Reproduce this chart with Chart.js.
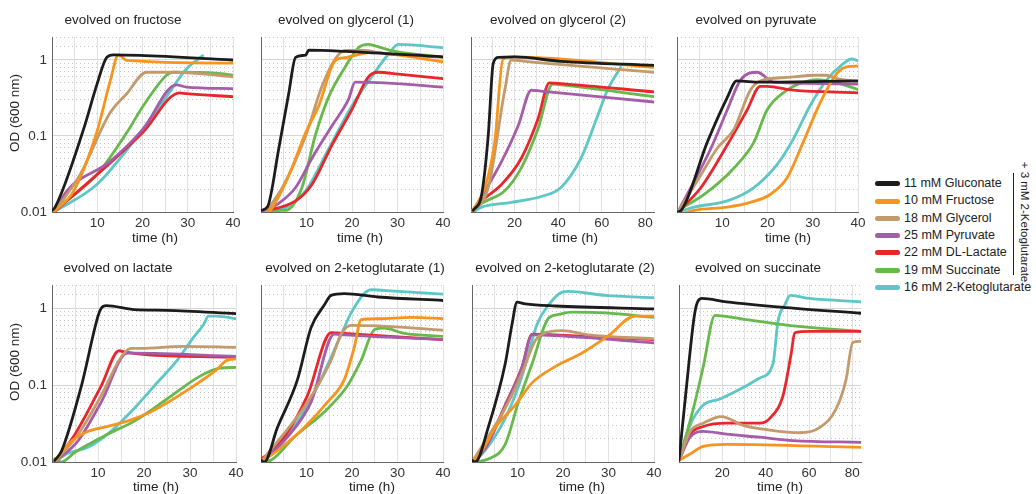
<!DOCTYPE html>
<html><head><meta charset="utf-8">
<script src="https://cdn.jsdelivr.net/npm/chart.js@4.4.0/dist/chart.umd.min.js"></script>
<style>
body{margin:0;background:#fff;width:1036px;height:494px;overflow:hidden;position:relative;font-family:"Liberation Sans",Arial,sans-serif;color:#222}
canvas{position:absolute}
.t{position:absolute;white-space:nowrap;font-size:13px;line-height:1;transform:translate(-50%,-50%)}
.leg{position:absolute;left:875px;font-size:12.5px;white-space:nowrap;line-height:1}
.leg span{display:inline-block;width:25px;height:5px;border-radius:3px;vertical-align:middle;margin-right:4px}
</style></head><body>
<script>
// ---- series ----
const seriesNames = ['11 mM Gluconate','10 mM Fructose','18 mM Glycerol','25 mM Pyruvate','22 mM DL-Lactate','19 mM Succinate','16 mM 2-Ketoglutarate'];
const seriesColors = ['#1c1c1c','#f7941d','#c29a6c','#a65ca8','#e8262b','#66b94a','#5cc7c6'];
const panelTitles = ['evolved on fructose','evolved on glycerol (1)','evolved on glycerol (2)','evolved on pyruvate','evolved on lactate','evolved on 2-ketoglutarate (1)','evolved on 2-ketoglutarate (2)','evolved on succinate'];
const panelXMax = [40,40,84,40,40,40,40,84];
const yTickLabels = ['0.01','0.1','1'];

// ---- panel 1: evolved on fructose ----
const fru_glc = [[0,0.0105],[0.7,0.0116],[7,0.124],[9.9,0.47],[12.1,1.08],[13.6,1.17],[19.4,1.15],[40,1.0]];
const fru_fru = [[0.4,0.01],[4.8,0.019],[9.9,0.112],[12.8,0.51],[14.7,1.17],[16.5,0.99],[40,0.91]];
const fru_gly = [[0.5,0.01],[6.2,0.031],[12.8,0.2],[16.5,0.36],[20.9,0.69],[27.5,0.69],[40,0.6]];
const fru_pyr = [[0.5,0.01],[3.3,0.019],[12.8,0.046],[20.1,0.123],[27.5,0.47],[29.7,0.44],[40,0.42]];
const fru_lac = [[0.5,0.01],[12.8,0.044],[20.1,0.112],[28.2,0.37],[29.7,0.36],[40,0.33]];
const fru_suc = [[0.5,0.0105],[9.9,0.031],[16.5,0.11],[20.1,0.246],[25.3,0.63],[26.7,0.69],[36.3,0.67],[40,0.63]];
const fru_akg = [[0.4,0.01],[9.9,0.023],[17.9,0.083],[25.3,0.33],[29.7,0.76],[33.3,1.14]];

// ---- panel 2: evolved on glycerol (1) ----
const gly1_glc = [[0,0.0105],[1.4,0.0116],[3.9,0.068],[6.1,0.365],[7.6,1.08],[9.8,1.16],[10.5,1.35],[18.5,1.3],[40,1.1]];
const gly1_fru = [[0,0.01],[1,0.0095],[3.9,0.016],[6.8,0.038],[9.8,0.11],[12.7,0.25],[16.3,0.98],[18.5,1.07],[24.3,1.26],[28,1.2],[40,0.95]];
const gly1_gly = [[1,0.01],[4.7,0.021],[9.8,0.1],[13.4,0.45],[16.3,1.03],[18.5,1.34],[22.9,1.34],[25.8,1.25],[40,1.08]];
const gly1_pyr = [[0,0.01],[3.9,0.013],[7.6,0.021],[11.2,0.051],[15.6,0.136],[19.2,0.3],[20.7,0.51],[27.2,0.5],[40,0.44]];
const gly1_lac = [[0,0.01],[7.6,0.014],[11.2,0.023],[15.6,0.076],[20,0.224],[23.6,0.6],[25.8,0.69],[30.2,0.65],[40,0.57]];
const gly1_suc = [[0,0.0105],[5.4,0.0105],[9,0.021],[11.9,0.1],[14.9,0.33],[18.5,0.81],[21.4,1.45],[23.6,1.6],[25.1,1.53],[29.4,1.3],[40,1.09]];
const gly1_akg = [[0,0.01],[3.9,0.0105],[9.8,0.019],[14.9,0.068],[20,0.25],[24.3,0.6],[28,1.19],[30.2,1.6],[40,1.45]];

// ---- panel 3: evolved on glycerol (2) ----
const gly2_glc = [[1,0.0105],[4.9,0.017],[7.9,0.1],[10.2,0.9],[12.5,1.08],[20,1.1],[41,0.96],[84,0.85]];
const gly2_fru = [[0.3,0.01],[6.4,0.021],[10.9,0.083],[14.7,1.03],[20,1.1],[84,0.8]];
const gly2_gly = [[0.3,0.01],[7.9,0.021],[15.5,0.4],[18.5,1.0],[26,0.95],[84,0.69]];
const gly2_pyr = [[1,0.0105],[4.9,0.016],[14,0.046],[21.6,0.135],[27.7,0.4],[32,0.39],[84,0.28]];
const gly2_lac = [[1,0.0105],[4.9,0.014],[14,0.023],[23.1,0.051],[30.7,0.166],[36,0.5],[41.3,0.49],[84,0.38]];
const gly2_suc = [[1,0.0105],[4.9,0.013],[15.5,0.019],[23.1,0.038],[30.7,0.123],[37.5,0.48],[41.3,0.47],[84,0.33]];
const gly2_akg = [[1,0.01],[4.9,0.0116],[18.5,0.0134],[32.2,0.016],[41.3,0.021],[50.5,0.051],[58,0.18],[62.6,0.4],[68.7,0.8]];

// ---- panel 4: evolved on pyruvate ----
const pyr_glc = [[0,0.01],[0.9,0.0105],[6.7,0.083],[11.1,0.32],[13.2,0.53],[18.4,0.51],[40,0.53]];
const pyr_fru = [[0,0.009],[3.8,0.0105],[11.1,0.0116],[16.2,0.0134],[20.6,0.017],[24.3,0.028],[27.9,0.083],[31.6,0.27],[35.3,0.66],[37.5,0.81],[40,0.83]];
const pyr_gly = [[0.2,0.01],[5.3,0.031],[8.9,0.069],[12.6,0.123],[16.2,0.4],[18.4,0.53],[24.3,0.59],[30.9,0.63],[33,0.63],[35.3,0.57],[40,0.52]];
const pyr_pyr = [[0.2,0.01],[7.5,0.069],[11.1,0.22],[14,0.54],[17.7,0.69],[21.4,0.51],[33,0.49],[40,0.48]];
const pyr_lac = [[0.2,0.01],[5.3,0.021],[11.1,0.076],[15.5,0.22],[18.4,0.45],[19.9,0.45],[25.7,0.4],[40,0.37]];
const pyr_suc = [[0.2,0.0105],[6,0.017],[12.6,0.038],[17,0.083],[19.9,0.22],[24.3,0.4],[27.2,0.49],[30.9,0.55],[35.3,0.5],[40,0.41]];
const pyr_akg = [[0.2,0.01],[3.8,0.0116],[11.1,0.014],[17,0.021],[22.1,0.042],[25.7,0.091],[29.4,0.25],[33,0.54],[36.7,0.89],[38.6,1.03],[40,0.98]];

// ---- panel 5: evolved on lactate ----
const lac_glc = [[0.6,0.0105],[2.1,0.014],[6.4,0.098],[10,0.79],[10.7,1.0],[11.8,1.08],[17.9,0.96],[25,0.94],[40,0.85]];
const lac_fru = [[0.6,0.01],[3.5,0.017],[7.1,0.024],[12.1,0.029],[16.4,0.034],[21.5,0.045],[28.6,0.08],[35.8,0.159],[38,0.21],[40,0.22]];
const lac_gly = [[0.6,0.01],[5.7,0.023],[10.7,0.073],[15,0.23],[17.2,0.3],[19.3,0.3],[28.6,0.32],[40,0.31]];
const lac_pyr = [[0.6,0.01],[5.7,0.019],[10.7,0.06],[16.4,0.26],[17.9,0.26],[40,0.236]];
const lac_lac = [[0.6,0.01],[5,0.023],[10.7,0.098],[14.6,0.28],[15.7,0.27],[21.5,0.245],[40,0.232]];
const lac_suc = [[0.6,0.011],[2,0.01],[5,0.0134],[12.1,0.023],[17.9,0.034],[25,0.066],[32.2,0.131],[36.5,0.166],[40,0.17]];
const lac_akg = [[0.6,0.01],[3.5,0.013],[7.8,0.0155],[12.8,0.025],[17.9,0.05],[22.9,0.108],[27.2,0.21],[30.8,0.42],[33,0.62],[34,0.79],[35.8,0.79],[40,0.73]];

// ---- panel 6: evolved on 2-ketoglutarate (1) ----
const akg1_glc = [[0,0.0105],[0.7,0.01],[3.6,0.028],[8,0.117],[11,0.56],[13.9,1.1],[15.4,1.47],[18.3,1.55],[25.7,1.4],[40,1.26]];
const akg1_fru = [[0,0.01],[3.6,0.014],[9.5,0.028],[14.6,0.06],[18.3,0.118],[20.5,0.31],[22,0.71],[25.7,0.73],[33,0.76],[40,0.73]];
const akg1_gly = [[0,0.01],[10.2,0.06],[15.4,0.21],[17.6,0.46],[19.8,0.6],[25.7,0.59],[40,0.52]];
const akg1_pyr = [[0,0.01],[5.8,0.021],[11,0.06],[16.1,0.46],[18.3,0.45],[40,0.39]];
const akg1_lac = [[0,0.011],[1.4,0.0125],[5.1,0.021],[10.2,0.073],[15.4,0.48],[18.3,0.47],[40,0.39]];
const akg1_suc = [[0,0.01],[2.1,0.0105],[7.3,0.021],[14.6,0.049],[19,0.098],[22,0.21],[25,0.53],[27.1,0.55],[31.5,0.47],[40,0.43]];
const akg1_akg = [[0,0.01],[5.1,0.019],[11,0.066],[15.4,0.23],[18.3,0.56],[19.8,0.87],[24.2,1.74],[29.3,1.67],[40,1.53]];

// ---- panel 7: evolved on 2-ketoglutarate (2) ----
const akg2_glc = [[0,0.0105],[0.7,0.01],[3.7,0.03],[7.3,0.19],[8.8,0.62],[9.9,1.2],[11.7,1.14],[18.3,1.07],[40,0.98]];
const akg2_fru = [[0,0.01],[2.2,0.014],[5.1,0.028],[9.5,0.055],[13.2,0.107],[18.3,0.174],[24.1,0.26],[30,0.44],[35.8,0.79],[40,0.79]];
const akg2_gly = [[0,0.01],[7.3,0.05],[11,0.144],[13.9,0.38],[15.4,0.46],[19.8,0.51],[25.6,0.45],[40,0.4]];
const akg2_pyr = [[0,0.01],[2.9,0.015],[7.3,0.053],[11,0.17],[13.2,0.45],[18.3,0.44],[40,0.355]];
const akg2_lac = [[0,0.01],[2.9,0.0155],[7.3,0.055],[11,0.174],[13.2,0.46],[18.3,0.45],[40,0.39]];
const akg2_suc = [[0.7,0.01],[3.7,0.011],[7.3,0.017],[10.2,0.06],[13.2,0.19],[16.8,0.74],[19,0.83],[21.9,0.89],[29.3,0.87],[40,0.76]];
const akg2_akg = [[0,0.01],[2.2,0.0127],[7.3,0.037],[11,0.131],[14.3,0.62],[16.8,1.1],[19.8,1.62],[21.2,1.66],[29.3,1.47],[40,1.37]];

// ---- panel 8: evolved on succinate ----
const suc_glc = [[0,0.0105],[3.5,0.098],[7.4,0.91],[10.4,1.34],[21.9,1.21],[49.5,1.02],[84,0.86]];
const suc_fru = [[0,0.0105],[5.1,0.0127],[11.2,0.016],[21.9,0.017],[84,0.0155]];
const suc_gly = [[0,0.0105],[5.1,0.025],[11.2,0.032],[19.6,0.039],[29.6,0.03],[41.9,0.026],[55.7,0.024],[64.9,0.028],[72.5,0.049],[77.1,0.118],[80.2,0.36],[84,0.37]];
const suc_pyr = [[0,0.0105],[5.1,0.021],[11.2,0.025],[21.9,0.023],[37.3,0.021],[52.6,0.019],[84,0.018]];
const suc_lac = [[0,0.0105],[5.1,0.023],[11.2,0.029],[21.9,0.032],[37.3,0.032],[41.9,0.037],[48,0.073],[51.8,0.26],[53.4,0.48],[60.3,0.5],[84,0.5]];
const suc_suc = [[0,0.0105],[6.6,0.049],[11.2,0.174],[16.6,0.81],[31.1,0.71],[52.6,0.59],[84,0.5]];
const suc_akg = [[0,0.0105],[5.1,0.03],[11.2,0.055],[18.9,0.066],[29.6,0.093],[37.3,0.124],[43.4,0.19],[45.7,0.68],[48.8,1.1],[51.4,1.47],[60.3,1.34],[84,1.21]];

const panelData = [
  [fru_glc,fru_fru,fru_gly,fru_pyr,fru_lac,fru_suc,fru_akg],
  [gly1_glc,gly1_fru,gly1_gly,gly1_pyr,gly1_lac,gly1_suc,gly1_akg],
  [gly2_glc,gly2_fru,gly2_gly,gly2_pyr,gly2_lac,gly2_suc,gly2_akg],
  [pyr_glc,pyr_fru,pyr_gly,pyr_pyr,pyr_lac,pyr_suc,pyr_akg],
  [lac_glc,lac_fru,lac_gly,lac_pyr,lac_lac,lac_suc,lac_akg],
  [akg1_glc,akg1_fru,akg1_gly,akg1_pyr,akg1_lac,akg1_suc,akg1_akg],
  [akg2_glc,akg2_fru,akg2_gly,akg2_pyr,akg2_lac,akg2_suc,akg2_akg],
  [suc_glc,suc_fru,suc_gly,suc_pyr,suc_lac,suc_suc,suc_akg]
];

// ---- layout (pixels) ----
const plotLeft  = [52,261,471,677,52,261,472,679];
const plotRight = [233,443,654,858,236,443,654,861];
const plotTop   = [32,32,32,32,280,280,280,280];
const plotBot   = [212,212,212,212,462,462,462,462];
const titleCX   = [123,346,558,756,118,355,565,758];
const xTitleCX  = [155,360,575,788,156,372,582,780];
const L = 48, R = 14, T = 8, B = 24;
const FONT = '"Liberation Sans", Arial, Helvetica, sans-serif';

function addText(txt, cx, cy, rot, size){
  const d = document.createElement('div');
  d.className = 't';
  d.textContent = txt;
  d.style.left = cx + 'px'; d.style.top = cy + 'px';
  if (size) d.style.fontSize = size + 'px';
  d.style.transform = 'translate(-50%,-50%)' + (rot ? ' rotate(' + rot + 'deg)' : '');
  document.body.appendChild(d);
}
function isDecade(v){ const l = Math.log10(v); return Math.abs(l - Math.round(l)) < 1e-6; }

for (let p = 0; p < 8; p++) {
  const w = plotRight[p] - plotLeft[p] + L + R;
  const h = plotBot[p] - plotTop[p] + T + B;
  const c = document.createElement('canvas');
  c.width = w; c.height = h;
  c.style.left = (plotLeft[p] - L) + 'px';
  c.style.top = (plotTop[p] - T) + 'px';
  c.style.width = w + 'px'; c.style.height = h + 'px';
  document.body.appendChild(c);
  const xmax = panelXMax[p];
  const gridStep = xmax > 50 ? 10 : 5;
  const labStep = xmax > 50 ? 20 : 10;
  const showY = (p % 4 === 0);
  new Chart(c, {
    type: 'line',
    data: {
      datasets: panelData[p].map((arr, i) => ({
        label: seriesNames[i],
        data: arr.map(q => ({x: q[0], y: q[1]})),
        borderColor: seriesColors[i],
        backgroundColor: seriesColors[i],
        borderWidth: 2.8,
        pointRadius: 0,
        cubicInterpolationMode: 'monotone',
        borderCapStyle: 'round',
        borderJoinStyle: 'round',
        fill: false
      }))
    },
    options: {
      responsive: false, animation: false, devicePixelRatio: 1,
      layout: { padding: { left: 0, top: T, right: R, bottom: 0 } },
      plugins: { legend: { display: false }, title: { display: false }, tooltip: { enabled: false } },
      scales: {
        x: {
          type: 'linear', min: 0, max: xmax,
          afterFit: s => { s.height = B; },
          ticks: {
            stepSize: gridStep, includeBounds: false, autoSkip: false, maxRotation: 0, padding: 3, color: '#333',
            font: { family: FONT, size: 13.5 },
            callback: v => (v > 0 && v % labStep === 0) ? String(v) : ''
          },
          grid: { color: '#e2e2e2', lineWidth: 1, drawTicks: false },
          border: { display: true, color: '#666', width: 1 }
        },
        y: {
          type: 'logarithmic', min: 0.01, max: 2, position: 'left',
          afterFit: s => { s.width = L; },
          ticks: {
            autoSkip: false, padding: 5, color: '#333',
            font: { family: FONT, size: 13.5 },
            callback: v => {
              if (!showY) return '';
              for (const lab of yTickLabels) if (Math.abs(v - parseFloat(lab)) < 1e-9) return lab;
              return '';
            }
          },
          grid: { color: ctx => (ctx.tick && isDecade(ctx.tick.value)) ? '#d6d6d6' : 'rgba(0,0,0,0)', lineWidth: 1, drawTicks: false },
          border: { display: true, color: '#666', width: 1 }
        },
        y2: {
          type: 'logarithmic', min: 0.01, max: 2, position: 'left',
          afterFit: s => { s.width = 0; },
          ticks: { display: false },
          grid: { color: ctx => (ctx.tick && !isDecade(ctx.tick.value)) ? '#c4c4c4' : 'rgba(0,0,0,0)', lineWidth: 1, drawTicks: false },
          border: { display: false, dash: [1, 3] }
        }
      }
    }
  });
  const titleY = p < 4 ? 20 : 268;
  addText(panelTitles[p], titleCX[p], titleY, 0, 13.5);
  addText('time (h)', xTitleCX[p], p < 4 ? 238 : 487, 0, 13.5);
}
addText('OD (600 nm)', 15, 113, -90, 13.5);
addText('OD (600 nm)', 15, 362, -90, 13.5);

// legend
seriesNames.forEach((n, i) => {
  const d = document.createElement('div');
  d.className = 'leg';
  d.style.top = (184 + i * 17.3 - 7) + 'px';
  const sw = document.createElement('span');
  sw.style.background = seriesColors[i];
  d.appendChild(sw);
  d.appendChild(document.createTextNode(n));
  document.body.appendChild(d);
});
const br = document.createElement('div');
br.style.cssText = 'position:absolute;left:1013px;top:173px;width:1px;height:102px;background:#222';
document.body.appendChild(br);
addText('+ 3 mM 2-Ketoglutarate', 1024, 222, 90, 11.5);
</script>
</body></html>
